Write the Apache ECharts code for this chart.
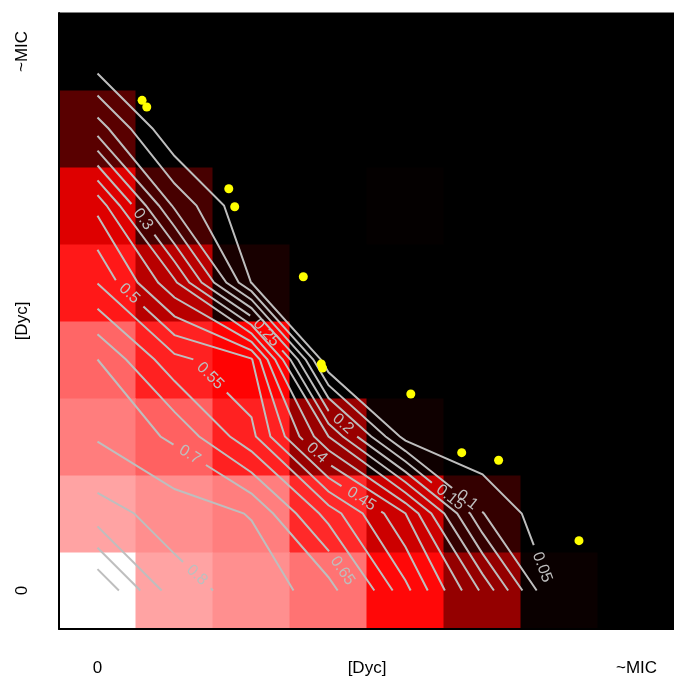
<!DOCTYPE html>
<html>
<head>
<meta charset="utf-8">
<script src="https://cdn.jsdelivr.net/npm/echarts/dist/echarts.min.js"></script>
<style>
  html, body { margin: 0; padding: 0; background: #ffffff; }
  #chart { width: 674px; height: 687px; }
</style>
</head>
<body>
<div id="chart"></div>
<script>
// ---- Data: grid values (row index 0 = bottom), columns 0..7 ----
const z0 = [1.0, 0.82, 0.78, 0.725, 0.515, 0.29, 0.02, 0];
const z1 = [0.82, 0.778, 0.747, 0.58, 0.40, 0.102, 0, 0];
const z2 = [0.745, 0.69, 0.565, 0.30, 0.03, 0, 0, 0];
const z3 = [0.70, 0.565, 0.505, 0, 0, 0, 0, 0];
const z4 = [0.548, 0.36, 0.048, 0, 0, 0, 0, 0];
const z5 = [0.435, 0.14, 0, 0, 0.008, 0, 0, 0];
const z6 = [0.175, 0, 0, 0, 0, 0, 0, 0];
const z7 = [0, 0, 0, 0, 0, 0, 0, 0];
const zRows = [z0, z1, z2, z3, z4, z5, z6, z7];

// contour levels
const levels = [0.05, 0.1, 0.15, 0.2, 0.25, 0.3, 0.35, 0.4, 0.45, 0.5,
                0.55, 0.6, 0.65, 0.7, 0.75, 0.8, 0.85, 0.9, 0.95];

// contour label spots (level, approx location in data units)
const labelLevel = [0.3, 0.5, 0.25, 0.55, 0.7, 0.2, 0.4, 0.45, 0.15, 0.1, 0.05, 0.65, 0.8];
const labelX = [0.578, 0.409, 2.175, 1.461, 1.188, 3.162, 2.838, 3.409, 4.565, 4.799, 5.747, 3.175, 1.279];
const labelY = [4.812, 3.851, 3.331, 2.786, 1.747, 2.136, 1.773, 1.162, 1.188, 1.175, 0.292, 0.253, 0.188];

// yellow points
const ptX = [0.579, 0.640, 1.705, 1.782, 2.673, 2.906, 2.922, 4.069, 4.730, 5.209, 6.253];
const ptY = [6.366, 6.279, 5.218, 4.984, 4.075, 2.942, 2.890, 2.552, 1.790, 1.691, 0.647];

// axis tick labels
const tickVals = [0, 3.5, 7];
const tickLabels = ['0', '[Dyc]', '~MIC'];

// ---- layout ----
const GRID = { left: 59, top: 13, width: 616, height: 616, outerBoundsMode: 'none', containLabel: false };
const pxPerUnit = GRID.width / 8;
const LABEL_FONT = 16;
const LABEL_FAMILY = '"Liberation Sans", Arial, sans-serif';

// ---- contour computation (marching squares on cell centres) ----
function Z(i, j) { return zRows[j][i]; }
function contourLevel(L) {
  const n = 8, segs = [];
  function ep(i1, j1, i2, j2) {
    const a = Z(i1, j1), b = Z(i2, j2), t = (L - a) / (b - a);
    return [i1 + (i2 - i1) * t, j1 + (j2 - j1) * t];
  }
  for (let j = 0; j < n - 1; j++) {
    for (let i = 0; i < n - 1; i++) {
      const za = Z(i, j), zb = Z(i + 1, j), zc = Z(i + 1, j + 1), zd = Z(i, j + 1);
      const A = za >= L, B = zb >= L, C = zc >= L, D = zd >= L;
      const e = {};
      if (A !== B) e.bottom = { k: 'h' + i + ',' + j, p: ep(i, j, i + 1, j) };
      if (B !== C) e.right = { k: 'v' + (i + 1) + ',' + j, p: ep(i + 1, j, i + 1, j + 1) };
      if (D !== C) e.top = { k: 'h' + i + ',' + (j + 1), p: ep(i, j + 1, i + 1, j + 1) };
      if (A !== D) e.left = { k: 'v' + i + ',' + j, p: ep(i, j, i, j + 1) };
      const ks = Object.keys(e);
      if (ks.length === 2) segs.push([e[ks[0]], e[ks[1]]]);
      else if (ks.length === 4) {
        const center = (za + zb + zc + zd) / 4 >= L;
        if (A) {
          if (center) { segs.push([e.bottom, e.right]); segs.push([e.left, e.top]); }
          else { segs.push([e.bottom, e.left]); segs.push([e.right, e.top]); }
        } else {
          if (center) { segs.push([e.bottom, e.left]); segs.push([e.right, e.top]); }
          else { segs.push([e.bottom, e.right]); segs.push([e.left, e.top]); }
        }
      }
    }
  }
  const adj = {};
  segs.forEach((s, idx) => s.forEach(end => { (adj[end.k] = adj[end.k] || []).push(idx); }));
  const used = new Array(segs.length).fill(false);
  const lines = [];
  function trace(startIdx, startKey) {
    const pts = [];
    let idx = startIdx, key = startKey;
    const s0 = segs[idx];
    pts.push((s0[0].k === key ? s0[0] : s0[1]).p);
    while (idx !== undefined && !used[idx]) {
      used[idx] = true;
      const s = segs[idx];
      const other = s[0].k === key ? s[1] : s[0];
      pts.push(other.p);
      key = other.k;
      idx = (adj[key] || []).find(x => !used[x]);
    }
    return pts;
  }
  Object.keys(adj).forEach(k => {
    if (adj[k].length === 1 && !used[adj[k][0]]) lines.push(trace(adj[k][0], k));
  });
  segs.forEach((s, idx) => { if (!used[idx]) lines.push(trace(idx, s[0].k)); });
  return lines;
}

// ---- text measuring ----
const mctx = document.createElement('canvas').getContext('2d');
mctx.font = LABEL_FONT + 'px ' + LABEL_FAMILY;
function textW(t) { return mctx.measureText(t).width; }

function cumLen(pts) {
  const d = [0];
  for (let k = 1; k < pts.length; k++) {
    d.push(d[k - 1] + Math.hypot(pts[k][0] - pts[k - 1][0], pts[k][1] - pts[k - 1][1]));
  }
  return d;
}
function pointAt(pts, d, s) {
  for (let k = 1; k < pts.length; k++) {
    if (s <= d[k] || k === pts.length - 1) {
      const seg = d[k] - d[k - 1] || 1e-9;
      const t = Math.max(0, Math.min(1, (s - d[k - 1]) / seg));
      return [pts[k - 1][0] + (pts[k][0] - pts[k - 1][0]) * t, pts[k - 1][1] + (pts[k][1] - pts[k - 1][1]) * t];
    }
  }
  return pts[pts.length - 1];
}
function polyLen(p) { const d = cumLen(p); return d[d.length - 1]; }

// ---- build pieces and labels ----
const pieces = [];
const labelItems = [];
levels.forEach(L => {
  let lines = contourLevel(L);
  const li = labelLevel.findIndex(v => Math.abs(v - L) < 1e-9);
  if (li >= 0 && lines.length) {
    const sx = labelX[li], sy = labelY[li];
    let best = null;
    lines.forEach((pts, pi) => {
      const d = cumLen(pts);
      for (let k = 1; k < pts.length; k++) {
        const ax = pts[k - 1][0], ay = pts[k - 1][1], bx = pts[k][0], by = pts[k][1];
        const vx = bx - ax, vy = by - ay, len2 = vx * vx + vy * vy || 1e-12;
        const t = Math.max(0, Math.min(1, ((sx - ax) * vx + (sy - ay) * vy) / len2));
        const px = ax + vx * t, py = ay + vy * t;
        const dist = Math.hypot(px - sx, py - sy);
        if (!best || dist < best.dist) best = { dist, pi, s: d[k - 1] + Math.sqrt(len2) * t };
      }
    });
    const pts = lines[best.pi];
    const d = cumLen(pts);
    const total = d[d.length - 1];
    const text = String(L);
    const g = (textW(text) + 16) / pxPerUnit;
    if (total > g) {
      let s0 = Math.max(g / 2, Math.min(total - g / 2, best.s));
      const sa = s0 - g / 2, sb = s0 + g / 2;
      const pa = pointAt(pts, d, sa), pb = pointAt(pts, d, sb);
      const before = [], after = [];
      for (let k = 0; k < pts.length; k++) if (d[k] < sa) before.push(pts[k]);
      before.push(pa);
      after.push(pb);
      for (let k = 0; k < pts.length; k++) if (d[k] > sb) after.push(pts[k]);
      const mid = pointAt(pts, d, s0);
      let ang = Math.atan2(pb[1] - pa[1], pb[0] - pa[0]) * 180 / Math.PI;
      if (ang > 90) ang -= 180;
      if (ang <= -90) ang += 180;
      labelItems.push({ x: mid[0], y: mid[1], angle: ang, text });
      const rest = lines.filter((_, i) => i !== best.pi);
      if (before.length > 1) rest.push(before);
      if (after.length > 1) rest.push(after);
      lines = rest;
    }
  }
  lines.forEach(p => { if (polyLen(p) > 0.03) pieces.push(p); });
});

// ---- heatmap data ----
const heatData = [];
zRows.forEach((row, j) => row.forEach((v, i) => heatData.push([i, j, v])));

function tickFmt(v) {
  const k = tickVals.findIndex(t => Math.abs(t - v) < 1e-6);
  return k >= 0 ? tickLabels[k] : '';
}

const axisFont = { fontSize: 17, color: '#000000', fontFamily: LABEL_FAMILY };

const chart = echarts.init(document.getElementById('chart'), null, { renderer: 'canvas' });
chart.setOption({
  animation: false,
  backgroundColor: '#ffffff',
  grid: Object.assign({}, GRID),
  xAxis: {
    type: 'value', min: -0.5, max: 7.5, interval: 0.5, z: 10,
    axisLine: { show: true, onZero: false, lineStyle: { color: '#000000', width: 2 } },
    axisTick: { show: false }, splitLine: { show: false },
    axisLabel: Object.assign({ formatter: tickFmt, margin: 31, showMinLabel: true, showMaxLabel: true }, axisFont)
  },
  yAxis: {
    type: 'value', min: -0.5, max: 7.5, interval: 0.5, z: 10,
    axisLine: { show: true, onZero: false, lineStyle: { color: '#000000', width: 2 } },
    axisTick: { show: false }, splitLine: { show: false },
    axisLabel: Object.assign({ formatter: tickFmt, margin: 28, rotate: 90, showMinLabel: true, showMaxLabel: true }, axisFont)
  },
  visualMap: {
    show: false, type: 'continuous', min: 0, max: 1, dimension: 2, seriesIndex: 0,
    inRange: { color: ['#000000', '#ff0000', '#ffffff'] }
  },
  series: [
    {
      type: 'custom', coordinateSystem: 'cartesian2d', silent: true, z: 1,
      data: heatData,
      renderItem: function (params, api) {
        const c = api.coord([api.value(0) - 0.5, api.value(1) + 0.5]);
        const s = api.size([1, 1]);
        const col = api.visual('color');
        return {
          type: 'rect',
          shape: { x: c[0], y: c[1], width: s[0], height: s[1] },
          style: { fill: col, stroke: col, lineWidth: 1 }
        };
      }
    },
    {
      type: 'lines', coordinateSystem: 'cartesian2d',
      polyline: true, silent: true, z: 3,
      lineStyle: { color: '#bebebe', width: 2, opacity: 1 },
      data: pieces.map(p => ({ coords: p }))
    },
    {
      type: 'custom', coordinateSystem: 'cartesian2d',
      silent: true, z: 4,
      data: labelItems.map(l => [l.x, l.y, l.angle]),
      renderItem: function (params, api) {
        const it = labelItems[params.dataIndex];
        const p = api.coord([api.value(0), api.value(1)]);
        return {
          type: 'text', x: p[0], y: p[1], rotation: it.angle * Math.PI / 180,
          style: {
            text: it.text, fill: '#bebebe', fontSize: LABEL_FONT, fontFamily: LABEL_FAMILY,
            align: 'center', verticalAlign: 'middle'
          }
        };
      }
    },
    {
      type: 'scatter', symbol: 'circle', symbolSize: 9,
      silent: true, z: 5,
      itemStyle: { color: '#ffff00', opacity: 1 },
      data: ptX.map((x, k) => [x, ptY[k]])
    }
  ]
});
</script>
</body>
</html>
